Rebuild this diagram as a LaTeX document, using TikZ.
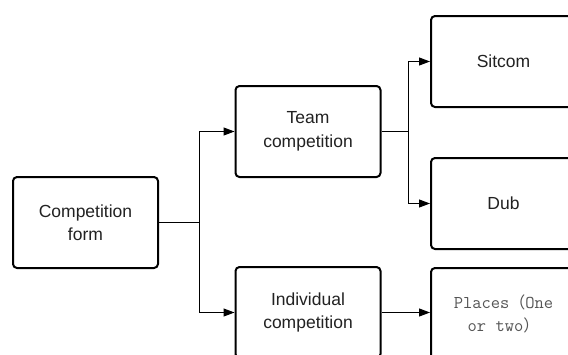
\documentclass[tikz,border=0pt]{standalone}
\usepackage{fontspec}
\setmainfont{Liberation Sans}
\newfontfamily\cjk{Noto Sans CJK SC}
\usetikzlibrary{arrows.meta}
\definecolor{txtgray}{HTML}{222222}
\definecolor{placegray}{HTML}{555555}
\tikzset{
  box/.style={draw=black, line width=2pt, rounded corners=4pt, fill=white,
    minimum width=145pt, minimum height=91pt, align=center, inner sep=0pt,
    font=\fontsize{17.5}{23.5}\selectfont, text=txtgray},
  conn/.style={draw=black, line width=1pt, -{Triangle[length=11pt,width=8pt]}},
  plain/.style={draw=black, line width=1pt}
}
\begin{document}
\begin{tikzpicture}[x=1pt,y=-1pt]
\useasboundingbox (0,0) rectangle (568,354);
\clip (0,0) rectangle (568,354);
\fill[white] (0,0) rectangle (568,354);
\node[box] (form) at (85.5,222.5) {Competition\\form};
\node[box] (team) at (308,131.5) {Team\\competition};
\node[box] (ind) at (308,312.5) {Individual\\competition};
\node[box] (sit) at (503.5,61.5) {Sitcom};
\node[box] (dub) at (503.5,203.5) {Dub};
\node[box, text=placegray, font=\ttfamily\fontsize{18}{23}\selectfont] (pla) at (503.5,313.5) {Places{\cjk\fontsize{16}{23}\selectfont （}One\\ or two{\cjk\fontsize{16}{23}\selectfont ）}};
\coordinate (j1) at (199,222.5);
\coordinate (j2) at (408,131.5);
\draw[plain] (form.east) -- (j1);
\draw[conn] (j1) |- (team.west);
\draw[conn] (j1) |- (ind.west);
\draw[plain] (team.east) -- (j2);
\draw[conn] (j2) |- (sit.west);
\draw[conn] (j2) |- (dub.west);
\draw[conn] (ind.east) -- (ind.east -| pla.west);
\end{tikzpicture}
\end{document}
